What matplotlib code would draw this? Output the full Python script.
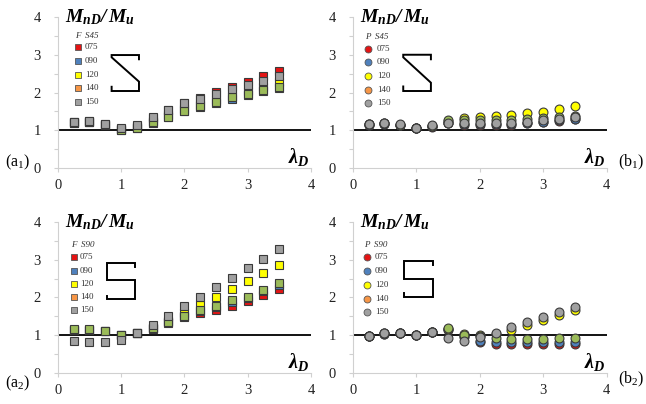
import matplotlib
matplotlib.use('Agg')
import matplotlib.pyplot as plt

plt.rcParams['font.family'] = ['Liberation Serif', 'DejaVu Serif']
plt.rcParams['mathtext.fontset'] = 'custom'
plt.rcParams['mathtext.rm'] = 'Liberation Serif'
plt.rcParams['mathtext.it'] = 'Liberation Serif:italic'
plt.rcParams['mathtext.bf'] = 'Liberation Serif:bold:italic'

# slenderness values (same for every panel)
lam = [0.25, 0.5, 0.75, 1.0, 1.25, 1.5, 1.75, 2.0, 2.25, 2.5, 2.75, 3.0, 3.25, 3.5]
series_names = ['075', '090', '120', '140', '150']

# (a1) F S45
f45_075 = [1.22, 1.24, 1.16, 1.04, 1.12, 1.33, 1.53, 1.72, 1.86, 2.01, 2.15, 2.29, 2.43, 2.58]
f45_090 = [1.19, 1.21, 1.13, 1.01, 1.05, 1.20, 1.34, 1.50, 1.61, 1.73, 1.84, 1.93, 2.04, 2.13]
f45_120 = [1.21, 1.23, 1.15, 1.03, 1.08, 1.25, 1.40, 1.56, 1.68, 1.80, 1.92, 2.03, 2.15, 2.28]
f45_140 = [1.20, 1.22, 1.14, 1.02, 1.06, 1.22, 1.36, 1.52, 1.63, 1.76, 1.87, 1.95, 2.07, 2.15]
f45_150 = [1.23, 1.25, 1.17, 1.05, 1.13, 1.34, 1.54, 1.71, 1.84, 1.96, 2.08, 2.19, 2.31, 2.45]

# (b1) P S45
p45_075 = [1.14, 1.16, 1.13, 1.05, 1.10, 1.18, 1.15, 1.13, 1.13, 1.15, 1.18, 1.21, 1.25, 1.30]
p45_090 = [1.15, 1.17, 1.14, 1.05, 1.11, 1.19, 1.17, 1.16, 1.16, 1.17, 1.20, 1.23, 1.27, 1.31]
p45_120 = [1.16, 1.18, 1.15, 1.06, 1.12, 1.25, 1.32, 1.35, 1.38, 1.41, 1.45, 1.49, 1.56, 1.63]
p45_140 = [1.16, 1.18, 1.15, 1.06, 1.12, 1.26, 1.28, 1.28, 1.28, 1.28, 1.30, 1.32, 1.35, 1.38]
p45_150 = [1.17, 1.19, 1.16, 1.07, 1.13, 1.20, 1.20, 1.19, 1.20, 1.20, 1.23, 1.26, 1.30, 1.34]

# (a2) F S90
f90_075 = [1.15, 1.15, 1.11, 1.00, 1.06, 1.17, 1.33, 1.49, 1.60, 1.67, 1.78, 1.91, 2.07, 2.22]
f90_090 = [1.15, 1.15, 1.11, 1.00, 1.06, 1.18, 1.34, 1.50, 1.64, 1.75, 1.88, 1.99, 2.16, 2.33]
f90_120 = [1.14, 1.14, 1.10, 1.00, 1.06, 1.20, 1.38, 1.58, 1.79, 2.00, 2.22, 2.44, 2.65, 2.87]
f90_140 = [1.16, 1.16, 1.12, 1.01, 1.07, 1.20, 1.36, 1.52, 1.67, 1.78, 1.92, 2.02, 2.20, 2.37]
f90_150 = [0.84, 0.81, 0.81, 0.88, 1.05, 1.27, 1.52, 1.78, 2.02, 2.27, 2.52, 2.77, 3.02, 3.27]

# (b2) P S90
p90_075 = [0.98, 1.04, 1.06, 1.00, 1.08, 1.15, 0.96, 0.82, 0.78, 0.76, 0.76, 0.76, 0.76, 0.76]
p90_090 = [0.98, 1.04, 1.06, 1.00, 1.08, 1.16, 0.97, 0.85, 0.83, 0.82, 0.82, 0.82, 0.82, 0.82]
p90_120 = [0.99, 1.05, 1.07, 1.01, 1.09, 1.17, 1.02, 1.00, 1.02, 1.13, 1.28, 1.41, 1.53, 1.66]
p90_140 = [0.99, 1.05, 1.07, 1.01, 1.09, 1.20, 1.00, 0.97, 0.93, 0.91, 0.91, 0.91, 0.93, 0.94]
p90_150 = [0.98, 1.05, 1.07, 1.01, 1.09, 0.94, 0.86, 0.95, 1.07, 1.21, 1.35, 1.48, 1.61, 1.74]

colors_plot = ['#e41414', '#4f81bd', '#ffff00', '#9bbb59', '#a0a0a0']
colors_leg = ['#e41414', '#4f81bd', '#ffff00', '#f79646', '#a0a0a0']

# section sketches in axes fractions
z_a = ([0.321, 0.321, 0.213, 0.213, 0.321, 0.321, 0.213, 0.213],
       [0.720, 0.748, 0.748, 0.733, 0.572, 0.510, 0.510, 0.538])
z_b = ([0.308, 0.308, 0.199, 0.199, 0.308, 0.308, 0.199, 0.199],
       [0.720, 0.750, 0.750, 0.733, 0.565, 0.510, 0.510, 0.540])
s_a = ([0.305, 0.305, 0.196, 0.196, 0.305, 0.305, 0.196, 0.196],
       [0.704, 0.726, 0.726, 0.616, 0.616, 0.490, 0.490, 0.512])
s_b = ([0.315, 0.315, 0.202, 0.202, 0.315, 0.315, 0.202, 0.202],
       [0.715, 0.742, 0.742, 0.623, 0.623, 0.505, 0.505, 0.527])

panels = [
    dict(pos=[0.0893, 0.584, 0.392, 0.374], data=[f45_075, f45_090, f45_120, f45_140, f45_150],
         marker='s', head='F  S45', leg=(0.080, 0.108, 0.875, 0.80, 0.0905), shape=z_a,
         tag='(a$_1$)', tagxy=(0.008, 0.598)),
    dict(pos=[0.546, 0.584, 0.393, 0.374], data=[p45_075, p45_090, p45_120, p45_140, p45_150],
         marker='o', head='P  S45', leg=(0.061, 0.095, 0.868, 0.79, 0.0905), shape=z_b,
         tag='(b$_1$)', tagxy=(0.956, 0.598)),
    dict(pos=[0.0893, 0.0767, 0.392, 0.374], data=[f90_075, f90_090, f90_120, f90_140, f90_150],
         marker='s', head='F  S90', leg=(0.064, 0.088, 0.848, 0.766, 0.088), shape=s_a,
         tag='(a$_2$)', tagxy=(0.008, 0.052)),
    dict(pos=[0.546, 0.0767, 0.393, 0.374], data=[p90_075, p90_090, p90_120, p90_140, p90_150],
         marker='o', head='P  S90', leg=(0.058, 0.088, 0.848, 0.766, 0.091), shape=s_b,
         tag='(b$_2$)', tagxy=(0.956, 0.06)),
]

fig = plt.figure(figsize=(6.46, 4.04), dpi=100)

for p in panels:
    ax = fig.add_axes(p['pos'])
    ax.set_xlim(0, 4)
    ax.set_ylim(0, 4)
    for s in ['top', 'right']:
        ax.spines[s].set_visible(False)
    for s in ['left', 'bottom']:
        ax.spines[s].set_color('#d0d0d0')
        ax.spines[s].set_linewidth(0.8)
    ax.set_xticks([0, 1, 2, 3, 4])
    ax.set_yticks([0, 1, 2, 3, 4])
    ax.set_yticks([0.5, 1.5, 2.5, 3.5], minor=True)
    ax.tick_params(axis='both', which='both', colors='#d0d0d0', labelcolor='#222222',
                   labelsize=10.5, length=3, width=0.8)
    ax.tick_params(axis='y', pad=9)
    ax.tick_params(axis='x', pad=5)

    ax.axhline(1, color='black', lw=1.3, zorder=2)

    for i, vals in enumerate(p['data']):
        ax.plot(lam, vals, linestyle='none', marker=p['marker'], markersize=6.4,
                markerfacecolor=colors_plot[i], markeredgecolor='#3a3a3a',
                markeredgewidth=0.8, zorder=3 + i, clip_on=False)

    # legend drawn by hand
    mx, tx, hy, y0, dy = p['leg']
    ax.text(mx - 0.012, hy, p['head'], transform=ax.transAxes, fontsize=6.5,
            style='italic', color='#333333', va='center', ha='left')
    for i, name in enumerate(series_names):
        yy = y0 - i * dy
        ax.plot([mx], [yy], transform=ax.transAxes, marker=p['marker'], markersize=5,
                markerfacecolor=colors_leg[i], markeredgecolor='#555555',
                markeredgewidth=0.6, linestyle='none', clip_on=False)
        ax.text(tx, yy, name, transform=ax.transAxes, fontsize=6.5,
                color='#333333', va='center', ha='left')

    sx, sy = p['shape']
    ax.plot(sx, sy, transform=ax.transAxes, color='black', lw=1.4, clip_on=False,
            solid_joinstyle='miter')

    ax.text(0.028, 1.0, r'$\mathbf{M_{nD}/\,M_u}$', transform=ax.transAxes,
            fontsize=14, va='center', ha='left')
    ax.text(0.995, 0.075, r'$\mathbf{\lambda_D}$', transform=ax.transAxes,
            fontsize=14.5, va='center', ha='right')

    fig.text(p['tagxy'][0], p['tagxy'][1], p['tag'], fontsize=11.5, va='center', ha='left')

fig.savefig('out.png', dpi=100)
